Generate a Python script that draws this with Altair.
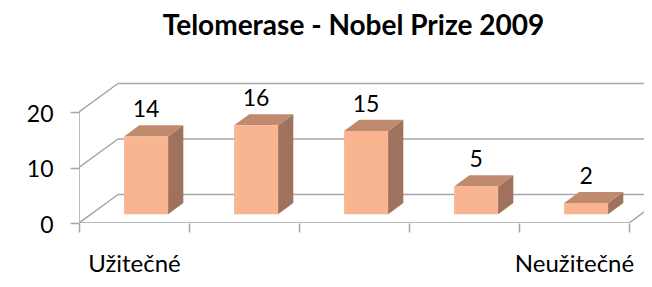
import altair as alt
import pandas as pd

# ---- data ----
categories = ["Užitečné", "c2", "c3", "c4", "Neužitečné"]
axis_labels = ["Užitečné", "", "", "", "Neužitečné"]
values = [14, 16, 15, 5, 2]
y_ticks = [0, 10, 20]
title_text = "Telomerase - Nobel Prize 2009"

# ---- geometry (pseudo-3D) ----
PX_CAT = 110.0      # px per category (front plane)
PX_VAL = 5.55       # px per value unit
W, H = 565, 143
DU = 39.0 / PX_CAT  # depth vector, in data units
DV = 28.5 / PX_VAL
F, B = 0.31, 0.70   # bar front/back depth fraction
HALF = 0.2          # half bar width (categories)

xs = alt.Scale(domain=[-0.5, -0.5 + W / PX_CAT], nice=False, zero=False)
ys = alt.Scale(domain=[0, H / PX_VAL], nice=False, zero=False)

GRID = "#A6A6A6"
FONT = "Lato"

label_expr = " : ".join(
    f"datum.value == {i - 0.5} ? '{lab}'" for i, lab in enumerate(axis_labels) if lab
) + " : ''"

x_axis = alt.Axis(values=[i - 0.5 for i in range(len(categories) + 1)], title=None,
                  domain=False, grid=False, tickSize=9, tickColor=GRID, tickWidth=1.5,
                  labelOffset=PX_CAT / 2, labelExpr=label_expr, labelFont=FONT,
                  labelFontSize=24, labelColor="#000", labelPadding=20, labelFlush=False,
                  labelOverlap=False, labelAlign="center")
y_axis = alt.Axis(values=y_ticks, title=None, domain=False, grid=False, tickSize=9,
                  tickColor=GRID, tickWidth=1.5, labelFont=FONT, labelFontSize=23,
                  labelColor="#000", labelPadding=17, labelBaseline="middle",
                  labelOffset=2)


def X(f="x"):
    return alt.X(f"{f}:Q", scale=xs, axis=x_axis)


def Y(f="y"):
    return alt.Y(f"{f}:Q", scale=ys, axis=y_axis)


n = len(categories)
x_left = -0.5
x_right = n - 0.5
x_end = -0.5 + W / PX_CAT + 1

# frame lines (segments)
seg = []
for g in y_ticks:
    # back wall gridline
    seg.append(dict(x=x_left + DU, y=g + DV, x2=x_end, y2=g + DV))
    # left wall diagonal
    seg.append(dict(x=x_left, y=g, x2=x_left + DU, y2=g + DV))
# front floor edge and right diagonal
seg.append(dict(x=x_left, y=0, x2=x_right, y2=0))
seg.append(dict(x=x_right, y=0, x2=x_right + DU, y2=DV))
# front vertical axis line
seg.append(dict(x=x_left, y=0, x2=x_left, y2=max(y_ticks)))
seg_df = pd.DataFrame(seg)

# bars
front, top, side, lab = [], [], [], []
for i, (c, v) in enumerate(zip(categories, values)):
    front.append(dict(cat=c, x=i - HALF + F * DU, x2=i + HALF + F * DU, y=F * DV, y2=v + F * DV))
    for d in (F, B):
        top.append(dict(cat=c, y=v + d * DV, x=i - HALF + d * DU, x2=i + HALF + d * DU))
        side.append(dict(cat=c, x=i + HALF + d * DU, y=v + d * DV, y2=d * DV))
    lab.append(dict(cat=c, x=i + F * DU, y=v + B * DV, t=str(v)))
front_df, top_df, side_df, lab_df = map(pd.DataFrame, (front, top, side, lab))

lines = alt.Chart(seg_df).mark_rule(color=GRID, strokeWidth=1.5, clip=True).encode(
    x=X(), y=Y(), x2="x2:Q", y2="y2:Q")

side_l = alt.Chart(side_df).mark_area(color="#9E725C", orient="vertical", clip=True).encode(
    x=X(), y=Y(), y2="y2:Q", detail="cat:N")
top_l = alt.Chart(top_df).mark_area(color="#C08A6E", orient="horizontal", clip=True).encode(
    y=Y(), x=X(), x2="x2:Q", detail="cat:N")
front_l = alt.Chart(front_df).mark_rect(color="#F9B590").encode(
    x=X(), x2="x2:Q", y=Y(), y2="y2:Q")
text_l = alt.Chart(lab_df).mark_text(font=FONT, fontSize=23, color="#000", dy=-8,
                                     baseline="alphabetic", align="center").encode(
    x=X(), y=Y(), text="t:N")

chart = alt.layer(lines, side_l, top_l, front_l, text_l).properties(
    width=W, height=H,
    padding={"left": 71, "top": 72, "right": 0, "bottom": 56},
    autosize=alt.AutoSizeParams(type="none"),
    title=alt.TitleParams(title_text, font=FONT, fontSize=28, fontWeight="bold",
                          color="#000", anchor="middle", dx=-8, offset=39),
).configure_view(strokeWidth=0)

chart.save("out.html", embed_options={"renderer": "svg", "actions": False})
